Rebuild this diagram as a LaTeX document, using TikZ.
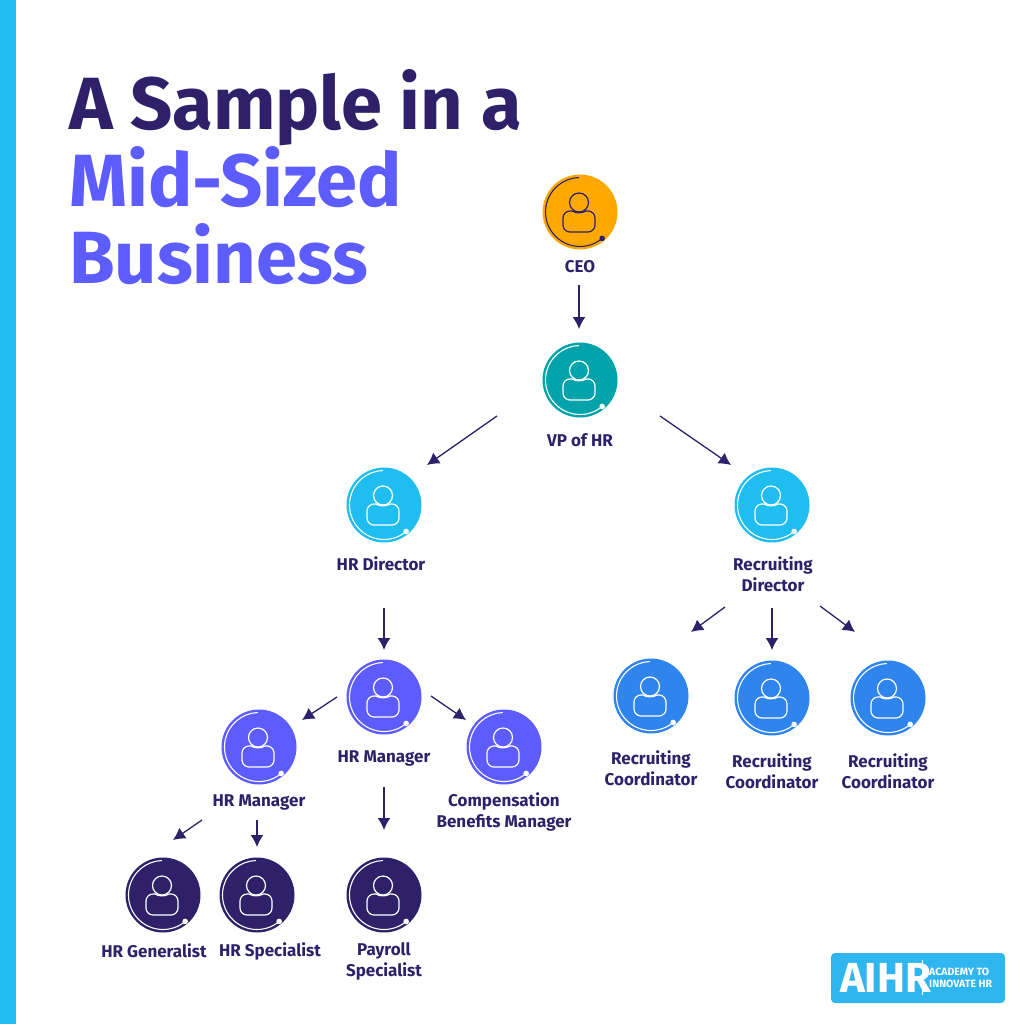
\documentclass[tikz,border=0pt]{standalone}
\usepackage{fontspec}
\setmainfont{Fira Sans}
\usetikzlibrary{calc}
\usetikzlibrary{arrows.meta}
\definecolor{inkdark}{HTML}{2E2069}
\definecolor{violet}{HTML}{5C5CFF}
\definecolor{skyblue}{HTML}{1FBDF0}
\definecolor{midblue}{HTML}{2F84EE}
\definecolor{tealish}{HTML}{00A3A9}
\definecolor{amber}{HTML}{FFA800}
\definecolor{logoblue}{HTML}{2FB6EE}
\tikzset{
    avatar/.style={circle, inner sep=0pt, minimum size=75pt},
    namelabel/.style={align=center, text=inkdark, font=\fontsize{17}{21}\selectfont\bfseries, inner sep=0pt},
    headline/.style={anchor=base west, inner sep=0pt, font=\fontsize{74}{76}\selectfont\bfseries},
    link/.style={draw=inkdark, line width=1.3pt, -{Latex[length=12pt,width=13pt]}},
    person/.pic={
        \draw[line width=1.1pt] (50:34.5) arc[start angle=50, end angle=268, radius=34.5];
        \fill (50:34.5) circle (2.8);
        \draw[line width=1.2pt] (-1,-9.5) circle (9.5);
        \draw[line width=1.2pt, rounded corners=7pt] (-8,-1) -- (-17,-1) -- (-17,20) -- (15,20) -- (15,-1) -- (6,-1);
        \draw[line width=1.2pt] (-8,-1) .. controls (-4,1.5) and (2,1.5) .. (6,-1);
    }
}
\begin{document}
\begin{tikzpicture}[x=1pt, y=-1pt]
    \useasboundingbox (0,0) rectangle (1024,1024);
    \fill[skyblue] (0,0) rectangle (16,1024);

    % title
    \node[headline, text=inkdark] (line1) at (69,130) {A Sample in a};
    \node[headline, text=violet] (line2) at (69,207) {Mid-Sized};
    \node[headline, text=violet] (line3) at (69,283) {Business};

    % people
    \node[avatar, fill=amber] (ceo) at (580,212) {};
    \node[avatar, fill=tealish] (vp) at (580,380) {};
    \node[avatar, fill=skyblue] (hrdir) at (384,505) {};
    \node[avatar, fill=skyblue] (recdir) at (772,505) {};
    \node[avatar, fill=violet] (hrmgr) at (384,697) {};
    \node[avatar, fill=violet] (hrmgrl) at (259,747) {};
    \node[avatar, fill=violet] (comp) at (504,747) {};
    \node[avatar, fill=midblue] (coorda) at (651,696) {};
    \node[avatar, fill=midblue] (coordb) at (772,698) {};
    \node[avatar, fill=midblue] (coordc) at (888,698) {};
    \node[avatar, fill=inkdark] (generalist) at (163,895) {};
    \node[avatar, fill=inkdark] (specialist) at (257,895) {};
    \node[avatar, fill=inkdark] (payroll) at (384,895) {};

    \pic[inkdark] at (ceo) {person};
    \foreach \who in {vp,hrdir,recdir,hrmgr,hrmgrl,comp,coorda,coordb,coordc,generalist,specialist,payroll}
        \pic[white] at (\who) {person};

    % labels
    \node[namelabel] (ceolabel) at (580,267) {CEO};
    \node[namelabel] (vplabel) at (580,440) {VP of HR};
    \node[namelabel] (hrdirlabel) at (381,564) {HR Director};
    \node[namelabel] (recdirlabel) at (773,574) {Recruiting\\Director};
    \node[namelabel] (hrmgrlabel) at (384,758) {HR Manager};
    \node[namelabel] (hrmgrllabel) at (259,802) {HR Manager};
    \node[namelabel] (complabel) at (504,812) {Compensation\\Benefits Manager};
    \node[namelabel] (coordalabel) at (651,768) {Recruiting\\Coordinator};
    \node[namelabel] (coordblabel) at (772,771) {Recruiting\\Coordinator};
    \node[namelabel] (coordclabel) at (888,771) {Recruiting\\Coordinator};
    \node[namelabel] (generalistlabel) at (154,951) {HR Generalist};
    \node[namelabel] (specialistlabel) at (270,951) {HR Specialist};
    \node[namelabel] (payrolllabel) at (384,961) {Payroll\\Specialist};

    % arrows
    \draw[link] ($(ceo)+(-1,73)$) -- ($(vp)+(-1,-51)$);
    \draw[link] ($(vp)+(-83,36)$) -- ($(hrdir)+(43,-40)$);
    \draw[link] ($(vp)+(80,36)$) -- ($(recdir)+(-41,-40)$);
    \draw[link] ($(hrdir)+(0,103)$) -- ($(hrmgr)+(0,-47)$);
    \draw[link] ($(hrmgr)+(-47,0)$) -- ($(hrmgrl)+(43,-27)$);
    \draw[link] ($(hrmgr)+(47,-1)$) -- ($(comp)+(-38,-27)$);
    \draw[link] ($(hrmgr)+(0,90)$) -- ($(payroll)+(0,-65)$);
    \draw[link] ($(hrmgrl)+(-57,73)$) -- ($(generalist)+(10,-55)$);
    \draw[link] ($(hrmgrl)+(-2,73)$) -- ($(specialist)+(0,-48)$);
    \draw[link] ($(recdir)+(-47,102)$) -- ($(coorda)+(40,-64)$);
    \draw[link] ($(recdir)+(0,103)$) -- ($(coordb)+(0,-48)$);
    \draw[link] ($(recdir)+(48,101)$) -- ($(coordc)+(-33,-66)$);

    % logo
    \fill[logoblue, rounded corners=4pt] (831,953) rectangle (1005,1003);
    \node[anchor=base west, inner sep=0pt, text=white, font=\fontsize{42}{42}\selectfont\bfseries] (aihr) at (840,992) {AIHR};
    \draw[white, line width=0.9pt] (922,960) -- (922,995);
    \node[anchor=west, inner sep=0pt, align=left, text=white, font=\fontsize{10.5}{12.5}\selectfont\bfseries] (tagline) at (929,978) {ACADEMY TO\\INNOVATE HR};
\end{tikzpicture}
\end{document}
